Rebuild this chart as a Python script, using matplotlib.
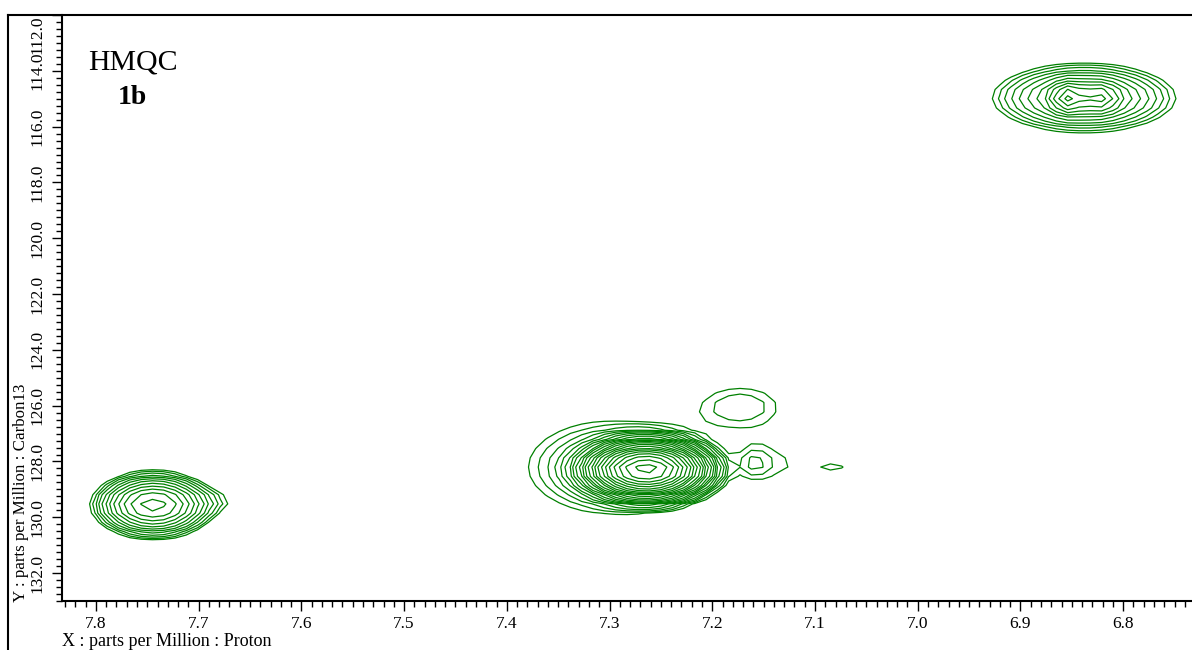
import numpy as np
import matplotlib.pyplot as plt
from matplotlib.lines import Line2D
from matplotlib.ticker import MultipleLocator, FormatStrFormatter

plt.rcParams['font.family'] = ['Liberation Serif', 'DejaVu Serif']

# cross peaks (1H ppm, 13C ppm), line widths and heights in units of the lowest level
peak_h = [7.744, 7.680, 7.300, 7.264, 7.160, 7.130, 7.172, 7.079, 6.838, 6.854, 6.823]
peak_c = [129.56, 129.42, 128.20, 128.28, 128.06, 128.10, 126.02, 128.20, 114.97, 114.97, 114.97]
width_h = [0.027, 0.020, 0.058, 0.025, 0.012, 0.026, 0.037, 0.016, 0.047, 0.009, 0.011]
width_c = [0.54, 0.35, 1.20, 0.43, 0.45, 0.75, 0.70, 0.30, 0.65, 0.30, 0.30]
height = [13.0, 0.7, 2.5, 150.0, 1.1, 0.95, 1.5, 1.0, 6.0, 7.0, 4.8]

# contour levels, geometric factor 1.25
base_level = 1.0
level_factor = 1.25
n_levels = 25

h_axis = np.arange(6.70, 7.87, 0.011)
c_axis = np.arange(111.7, 133.5, 0.33)

H, C = np.meshgrid(h_axis, c_axis)
Z = np.zeros_like(H)
for x0, y0, sx, sy, a in zip(peak_h, peak_c, width_h, width_c, height):
    Z += a * np.exp(-((H - x0) ** 2) / (2 * sx ** 2) - ((C - y0) ** 2) / (2 * sy ** 2))

levels = base_level * level_factor ** np.arange(n_levels)

fig = plt.figure(figsize=(11.92, 6.5), dpi=100)
ax = fig.add_axes([62 / 1192, 49 / 650, 1130 / 1192, 586 / 650])
ax.contour(H, C, Z, levels=levels, colors='#008000', linewidths=0.9)

ax.set_xlim(7.833, 6.733)
ax.set_ylim(133.0, 112.0)

ax.xaxis.set_major_locator(MultipleLocator(0.1))
ax.xaxis.set_minor_locator(MultipleLocator(0.01))
ax.yaxis.set_major_locator(MultipleLocator(2.0))
ax.yaxis.set_minor_locator(MultipleLocator(0.25))
ax.xaxis.set_major_formatter(FormatStrFormatter('%.1f'))
ax.yaxis.set_major_formatter(FormatStrFormatter('%.1f'))
ax.tick_params(which='major', length=7, width=1, labelsize=12.5, direction='out')
ax.tick_params(which='minor', length=4, width=1, direction='out')
ax.tick_params(axis='x', pad=4)
ax.tick_params(axis='y', pad=5)

for lab in ax.get_yticklabels():
    lab.set_rotation(90)
    lab.set_va('center')
fig.canvas.draw()
for lab in ax.get_yticklabels():
    if lab.get_text() == '112.0':
        lab.set_va('top')

for side in ['top', 'right']:
    ax.spines[side].set_visible(False)
for side in ['left', 'bottom']:
    ax.spines[side].set_linewidth(1.5)

# outer frame
fig.add_artist(Line2D([8 / 1192, 8 / 1192], [0, 635 / 650], color='black', linewidth=1.5,
                      transform=fig.transFigure))
fig.add_artist(Line2D([8 / 1192, 1.0], [635 / 650, 635 / 650], color='black', linewidth=1.5,
                      transform=fig.transFigure))

fig.text(133 / 1192, 1 - 62 / 650, 'HMQC', fontsize=21.5, ha='center', va='center')
fig.text(132 / 1192, 1 - 98 / 650, '1b', fontsize=20, fontweight='bold', ha='center', va='center')

fig.text(21 / 1192, 48 / 650, 'Y : parts per Million : Carbon13', fontsize=12.2,
         rotation=90, ha='center', va='bottom')
fig.text(62 / 1192, 1 - 641 / 650, 'X : parts per Million : Proton', fontsize=13,
         ha='left', va='center')

fig.savefig('out.png', dpi=100)
